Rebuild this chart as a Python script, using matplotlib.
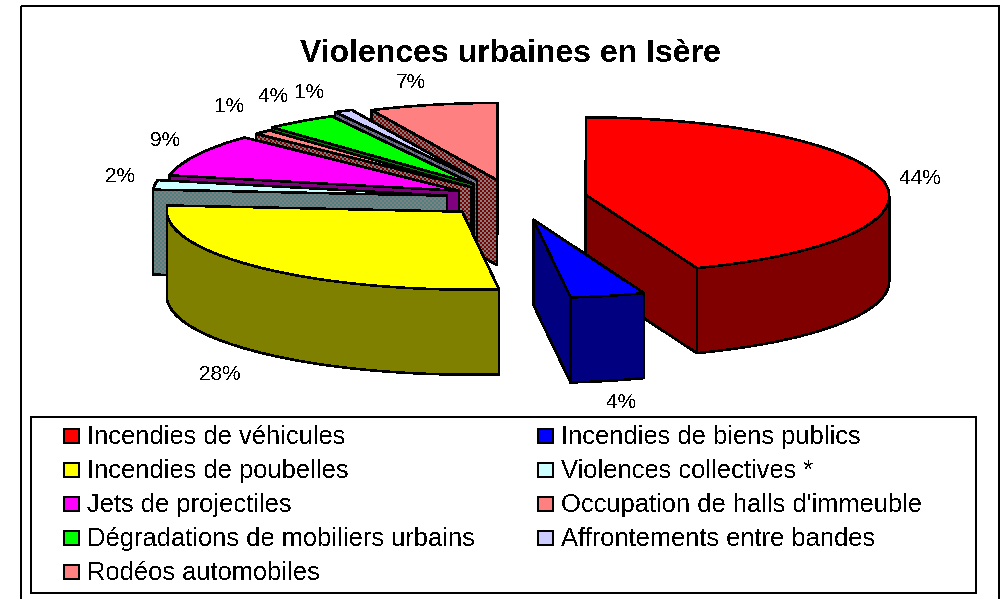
import numpy as np
import matplotlib
matplotlib.use('Agg')
import matplotlib.pyplot as plt
from matplotlib.patches import Polygon, Rectangle
from matplotlib.colors import to_rgb

plt.rcParams['font.family'] = ['Liberation Sans', 'DejaVu Sans']
plt.rcParams['text.antialiased'] = False

title = 'Violences urbaines en Isère'
categories = ['Incendies de véhicules', 'Incendies de biens publics', 'Incendies de poubelles',
              'Violences collectives *', 'Jets de projectiles', "Occupation de halls d'immeuble",
              'Dégradations de mobiliers urbains', 'Affrontements entre bandes', 'Rodéos automobiles']
values = [44, 4, 28, 2, 9, 1, 4, 1, 7]
colors = ['#ff0000', '#0000ff', '#ffff00', '#ccffff', '#ff00ff', '#ff8080', '#00ff00', '#ccccff', '#ff8080']
# a pair means the wall is dithered from the two colours
walls = ['#800000', '#000080', '#808000', ('#4d8080', '#808080'), '#800080',
         ('#800000', '#808080'), '#008000', ('#4d4d80', '#808080'), ('#800000', '#808080')]
explode = [0.249, 0.284, 0.244, 0.220, 0.200, 0.197, 0.221, 0.262, 0.237]
label_pos = [(920, 178), (622, 402), (220, 374), (120, 177), (165, 141), (230, 107), (274, 97), (310, 92), (411, 83)]

# camera of the 3d pie: pie plane -> picture pixels
H = np.array([[294.06, 2.1283, 512.27], [-0.89422, -76.741, 198.07], [-0.0099723, 0.0044481, 1]])
start = 0.147
depth = 85
lw = 1.1

fig = plt.figure(figsize=(10.07, 5.99), dpi=100)
ax = fig.add_axes([0, 0, 1, 1])
ax.axis('off')

yy, xx = np.indices((599, 1007))
checker = ((xx // 2 + yy // 2) % 2).astype(bool)
z = [1]


def project(x, y):
    w = H[2, 0] * x + H[2, 1] * y + H[2, 2]
    return np.column_stack([(H[0, 0] * x + H[0, 1] * y + H[0, 2]) / w,
                            (H[1, 0] * x + H[1, 1] * y + H[1, 2]) / w])


def fill(pts, col):
    z[0] += 1
    if isinstance(col, tuple):
        rgb = np.where(checker[..., None], to_rgb(col[0]), to_rgb(col[1]))
        im = ax.imshow(rgb, extent=(0, 1007, 599, 0), interpolation='nearest', aspect='auto', zorder=z[0])
        p = Polygon(pts, closed=True, fc='none', ec='k', lw=lw, antialiased=False, zorder=z[0])
        ax.add_patch(p)
        im.set_clip_path(p)
    else:
        ax.add_patch(Polygon(pts, closed=True, fc=col, ec='k', lw=lw, antialiased=False, zorder=z[0]))


def side(a, b):
    return np.array([a, b, b + [0, depth], a + [0, depth]])


def draw_slice(i):
    a, b = edges[i], edges[i + 1]
    mid = np.radians((a + b) / 2)
    cx, cy = explode[i] * np.sin(mid), explode[i] * np.cos(mid)
    t = np.radians(np.linspace(a, b, 80))
    rim = project(cx + np.sin(t), cy + np.cos(t))
    apex = project(np.array([cx]), np.array([cy]))[0]
    first = side(apex, rim[0])
    last = side(apex, rim[-1])
    for w in ([first, last] if np.sin(mid) > 0 else [last, first]):
        fill(w, walls[i])
    front = rim[np.cos(t) <= 0]
    if len(front) > 1:
        fill(np.vstack([front, front[::-1] + [0, depth]]), walls[i])
    fill(np.vstack([apex, rim]), colors[i])


edges = start + np.concatenate([[0], np.cumsum(values)]) / np.sum(values) * 360

# painter's order: back of the fan first, the two right hand slices last
for i in [8, 7, 6, 5, 4, 3, 2, 0, 1]:
    draw_slice(i)

for v, (x, y) in zip(values, label_pos):
    ax.text(x, y, '%d%%' % v, fontsize=15, ha='center', va='center', zorder=100)

ax.text(510.5, 54, title, fontsize=23, fontweight='bold', ha='center', va='center', zorder=100)

# frame and legend box
ax.add_patch(Rectangle((20.5, 6), 978.5, 600, fc='none', ec='k', lw=lw, antialiased=False, zorder=100))
ax.add_patch(Rectangle((31, 417), 945, 176, fc='none', ec='k', lw=lw, antialiased=False, zorder=100))

for i, name in enumerate(categories):
    col, row = i % 2, i // 2
    x = 64 + col * 474
    y = 436 + row * 34
    ax.add_patch(Rectangle((x, y - 7), 15, 14, fc=colors[i], ec='k', lw=lw, antialiased=False, zorder=100))
    ax.text(x + 23, y + 1, name, fontsize=18.4, ha='left', va='center', zorder=100)

ax.set_xlim(0, 1007)
ax.set_ylim(599, 0)
fig.savefig('out.png', dpi=100)
